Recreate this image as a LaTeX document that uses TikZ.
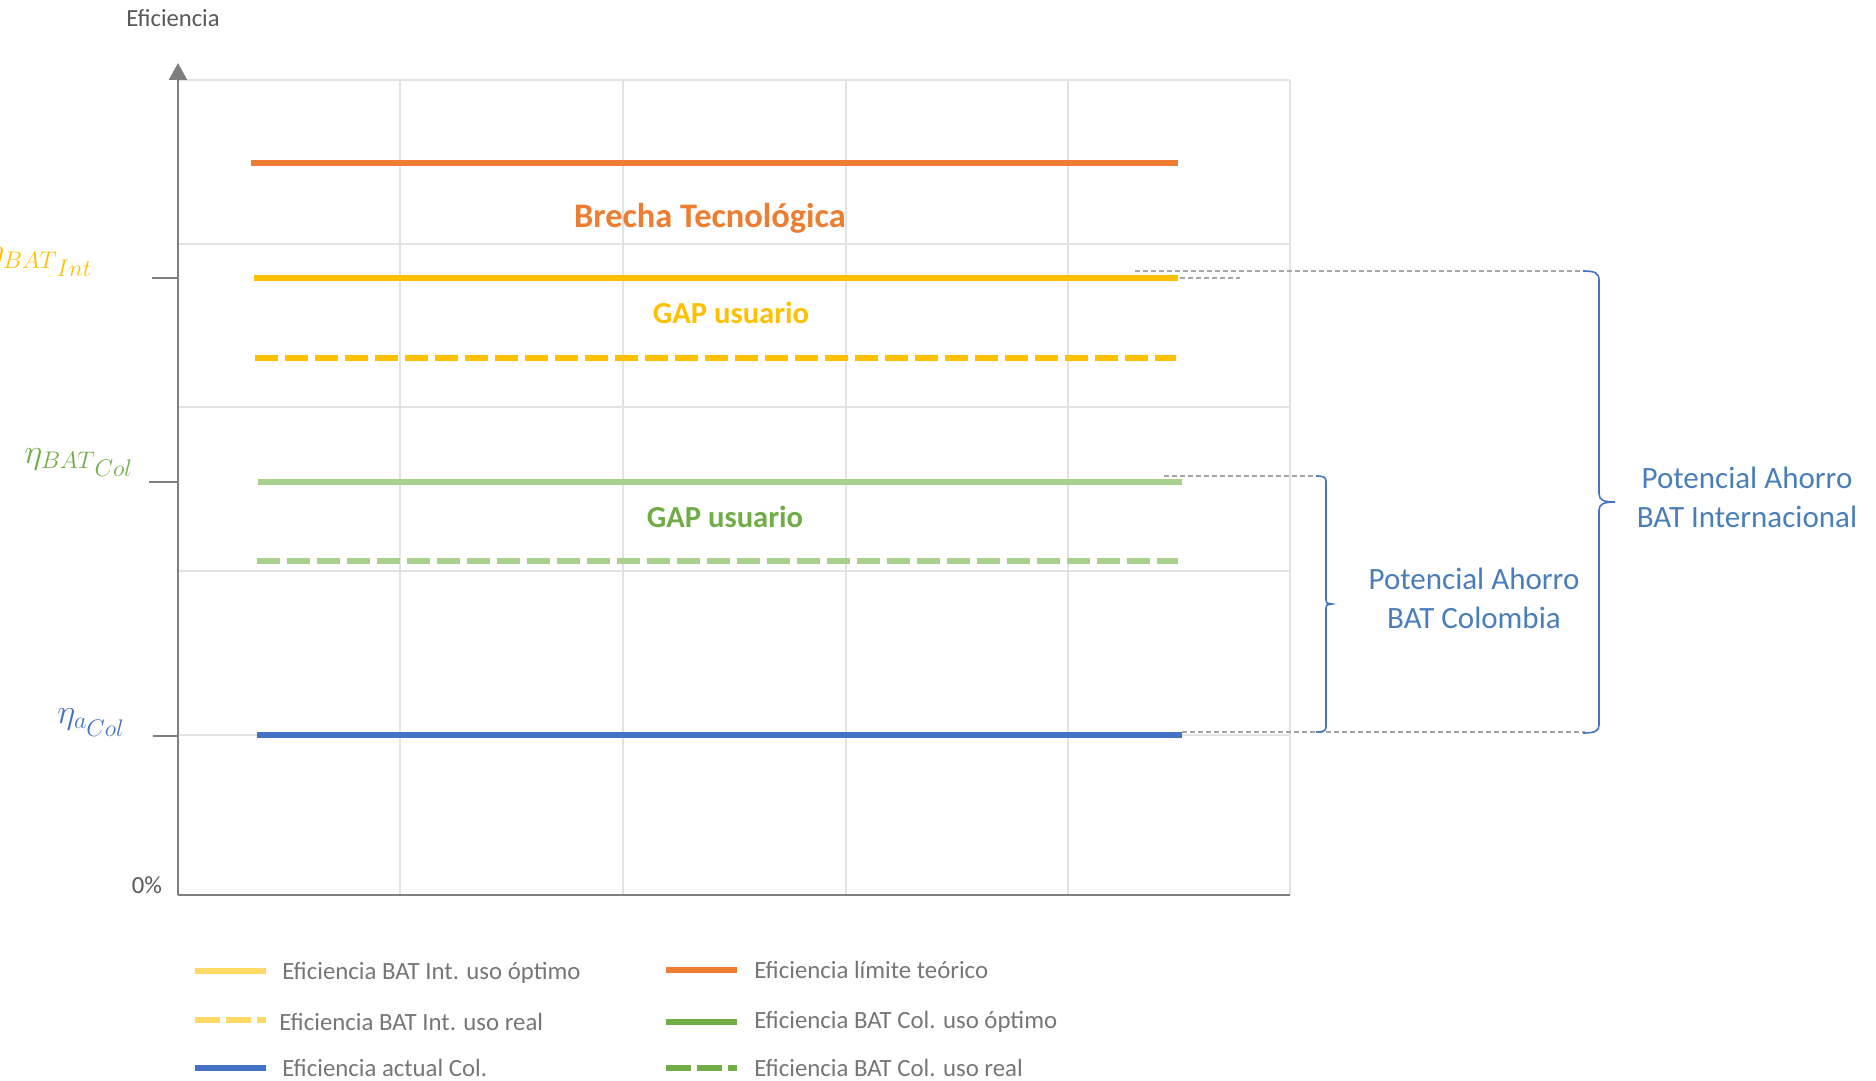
\documentclass[tikz,border=0pt]{standalone}
\usepackage{fontspec}
\setmainfont{Carlito}
\usetikzlibrary{arrows.meta}
\definecolor{orangeC}{HTML}{ED7D31}
\definecolor{yellowC}{HTML}{FFC000}
\definecolor{yellowL}{HTML}{FFD966}
\definecolor{greenL}{HTML}{A9D18E}
\definecolor{greenD}{HTML}{70AD47}
\definecolor{blueC}{HTML}{4472C4}
\definecolor{blueT}{HTML}{4A7EBB}
\definecolor{gridC}{HTML}{E3E3E3}
\definecolor{axisC}{HTML}{7F7F7F}
\definecolor{dashC}{HTML}{A6A6A6}
\definecolor{grayT}{HTML}{595959}
\definecolor{legT}{HTML}{767676}
\begin{document}
\begin{tikzpicture}[x=0.5pt,y=-0.5pt,
  gridline/.style={draw=gridC,line width=1pt},
  axisline/.style={draw=axisC,line width=1.3pt},
  tickline/.style={draw=axisC,line width=0.7pt},
  serie/.style={line width=3.2pt},
  dashserie/.style={line width=3.2pt,dash pattern=on 11.5pt off 3.5pt},
  guide/.style={draw=dashC,line width=0.6pt,dash pattern=on 2.5pt off 1.5pt},
  bracec/.style={draw=blueC,line width=0.8pt},
  smalltxt/.style={text=grayT,font=\fontsize{12.3}{14}\selectfont,inner sep=0pt},
  legtxt/.style={text=legT,font=\fontsize{12.4}{14}\selectfont,anchor=west,inner sep=0pt},
  legline/.style={line width=3pt},
  legdash/.style={line width=3pt,dash pattern=on 12.5pt off 3pt},
  gaptxt/.style={font=\bfseries\fontsize{15.3}{18}\selectfont,inner sep=0pt},
  potxt/.style={text=blueT,font=\fontsize{15.5}{19.5}\selectfont,align=center,inner sep=0pt},
  etatxt/.style={font=\fontsize{18}{21}\selectfont,anchor=base west,inner sep=0pt}
]
\useasboundingbox (0,0) rectangle (1876,1081);
% grid
\foreach \yy in {80,244,407,571,735} \draw[gridline] (178,\yy) -- (1290,\yy);
\foreach \xx in {400,623,846,1068,1290} \draw[gridline] (\xx,80) -- (\xx,895);
% axes
\coordinate (O) at (178,895);
\coordinate (Xend) at (1290,895);
\coordinate (Ytop) at (178,63);
\draw[axisline] (O) -- (Xend);
\draw[axisline,-{Triangle[width=9pt,length=8.5pt]}] (O) -- (Ytop);
% ticks
\coordinate (t1a) at (152,278); \coordinate (t1b) at (178,278);
\coordinate (t2a) at (149,482); \coordinate (t2b) at (178,482);
\coordinate (t3a) at (153,736); \coordinate (t3b) at (178,736);
\draw[tickline] (t1a) -- (t1b);
\draw[tickline] (t2a) -- (t2b);
\draw[tickline] (t3a) -- (t3b);
% series
\coordinate (oA) at (251,163); \coordinate (oB) at (1178,163);
\coordinate (yA) at (254,278); \coordinate (yB) at (1178,278);
\coordinate (ydA) at (255,358); \coordinate (ydB) at (1176,358);
\coordinate (gA) at (258,482); \coordinate (gB) at (1182,482);
\coordinate (gdA) at (257,561); \coordinate (gdB) at (1178,561);
\coordinate (bA) at (257,735); \coordinate (bB) at (1182,735);
\draw[serie,orangeC] (oA) -- (oB);
\draw[serie,yellowC] (yA) -- (yB);
\draw[dashserie,yellowC] (ydA) -- (ydB);
\draw[serie,greenL] (gA) -- (gB);
\draw[dashserie,greenL] (gdA) -- (gdB);
\draw[serie,blueC] (bA) -- (bB);
% guide dashed lines
\coordinate (d1a) at (1135,271); \coordinate (d1b) at (1585,271);
\coordinate (d2a) at (1180,278); \coordinate (d2b) at (1240,278);
\coordinate (d3a) at (1164,476); \coordinate (d3b) at (1318,476);
\coordinate (d4a) at (1182,732); \coordinate (d4b) at (1585,732);
\draw[guide] (d1a) -- (d1b);
\draw[guide] (d2a) -- (d2b);
\draw[guide] (d3a) -- (d3b);
\draw[guide] (d4a) -- (d4b);
% braces
\draw[bracec] (1583,271) .. controls (1595,271) and (1599,273) .. (1599,280) -- (1599,494)
  .. controls (1599,500) and (1604,502) .. (1615,502)
  .. controls (1604,502) and (1599,504) .. (1599,510) -- (1599,725)
  .. controls (1599,731) and (1595,733) .. (1583,733);
\draw[bracec] (1316,476) .. controls (1323,476) and (1326,477) .. (1326,481) -- (1326,600)
  .. controls (1326,603) .. (1332,604)
  .. controls (1326,605) .. (1326,608) -- (1326,727)
  .. controls (1326,731) and (1323,732) .. (1316,732);
% texts
\node[smalltxt] (ef) at (173,18) {Eficiencia};
\node[smalltxt] (zero) at (147,885) {0\%};
\node[text=orangeC,font=\bfseries\fontsize{17.2}{20}\selectfont,inner sep=0pt] (brecha) at (710,218) {Brecha Tecnológica};
\node[gaptxt,text=yellowC] (gap1) at (731,313) {GAP usuario};
\node[gaptxt,text=greenD] (gap2) at (725,517) {GAP usuario};
\node[potxt] (pint) at (1747,497) {Potencial Ahorro\\BAT Internacional};
\node[potxt] (pcol) at (1474,598) {Potencial Ahorro\\BAT Colombia};
% eta labels
\node[etatxt,text=yellowC] (e1) at (-14,263) {$\eta_{BAT_{\,\scriptstyle Int}}$};
\node[etatxt,text=greenD] (e2) at (24,463) {$\eta_{BAT_{\,\scriptstyle Col}}$};
\node[etatxt,text=blueC] (e3) at (57,723) {$\eta_{a_{\scriptstyle Col}}$};
% legend
\coordinate (l1a) at (195,971); \coordinate (l1b) at (266,971);
\coordinate (l2a) at (195,1020); \coordinate (l2b) at (266,1020);
\coordinate (l3a) at (195,1068); \coordinate (l3b) at (266,1068);
\coordinate (l4a) at (666,970); \coordinate (l4b) at (737,970);
\coordinate (l5a) at (666,1022); \coordinate (l5b) at (737,1022);
\coordinate (l6a) at (666,1068); \coordinate (l6b) at (737,1068);
\draw[legline,yellowL] (l1a) -- (l1b);
\draw[legdash,yellowL] (l2a) -- (l2b);
\draw[legline,blueC] (l3a) -- (l3b);
\draw[legline,orangeC] (l4a) -- (l4b);
\draw[legline,greenD] (l5a) -- (l5b);
\draw[legdash,greenD] (l6a) -- (l6b);
\node[legtxt] (t1) at (282,973) {Eficiencia BAT Int. uso óptimo};
\node[legtxt] (t2) at (279,1022) {Eficiencia BAT Int. uso real};
\node[legtxt] (t3) at (282,1068) {Eficiencia actual Col.};
\node[legtxt] (t4) at (754,970) {Eficiencia límite teórico};
\node[legtxt] (t5) at (754,1022) {Eficiencia BAT Col. uso óptimo};
\node[legtxt] (t6) at (754,1068) {Eficiencia BAT Col. uso real};
\end{tikzpicture}
\end{document}
